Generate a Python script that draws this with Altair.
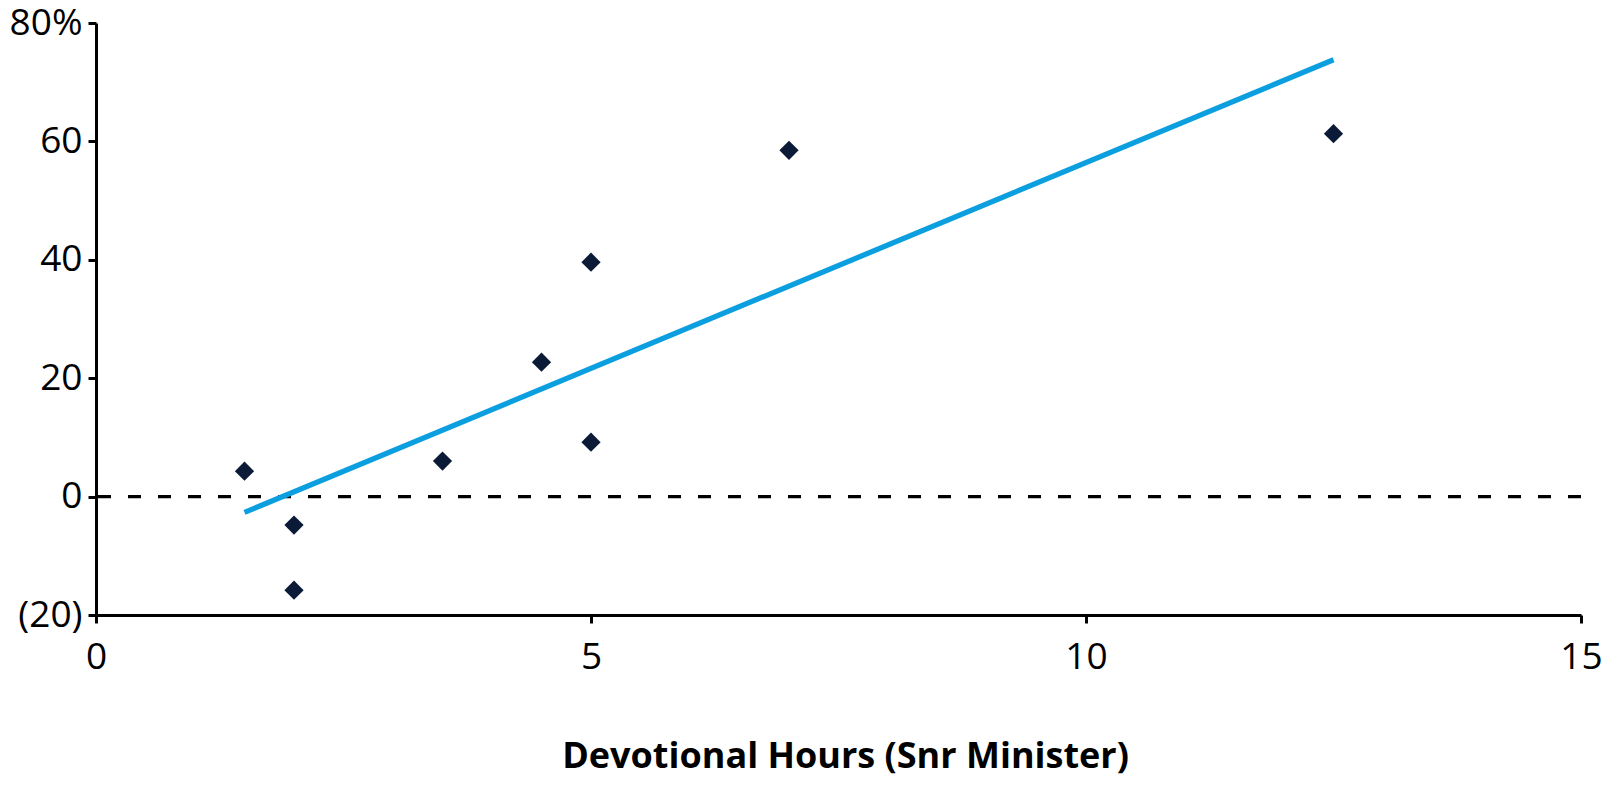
import altair as alt
import pandas as pd

# Data
hours = [1.5, 2.0, 2.0, 3.5, 4.5, 5.0, 5.0, 7.0, 12.5]
growth = [4.3, -4.8, -15.8, 6.0, 22.7, 39.6, 9.2, 58.5, 61.3]
x_ticks = [0, 5, 10, 15]
y_ticks = [-20, 0, 20, 40, 60, 80]
zero_line = [0]

df = pd.DataFrame({"hours": hours, "growth": growth})
zero_df = pd.DataFrame({"y": zero_line})

FONT = "Open Sans"

x_enc = alt.X(
    "hours:Q",
    scale=alt.Scale(domain=[0, 15], nice=False, zero=False),
    axis=alt.Axis(
        values=x_ticks,
        title="Devotional Hours (Snr Minister)",
        titleFont=FONT,
        titleFontSize=36,
        titleFontWeight="bold",
        titleColor="black",
        titleX=749,
        titleY=152,
        titleAlign="center",
        titleBaseline="alphabetic",
        labelFlush=False,
        labelPadding=16,
    ),
)
y_enc = alt.Y(
    "growth:Q",
    scale=alt.Scale(domain=[-20, 80], nice=False, zero=False),
    axis=alt.Axis(
        values=y_ticks,
        title=None,
        labelExpr="datum.value == 80 ? '80%' : (datum.value < 0 ? '(' + (-datum.value) + ')' : '' + datum.value)",
        labelPadding=6,
    ),
)

base = alt.Chart(df)

zero_rule = alt.Chart(zero_df).mark_rule(
    color="black", strokeWidth=3.2, strokeDash=[13, 17]
).encode(y=alt.Y("y:Q", scale=alt.Scale(domain=[-20, 80], nice=False, zero=False)))

trend = base.transform_regression("hours", "growth").mark_line(
    color="#0C9FDF", strokeWidth=5.3, strokeCap="butt"
).encode(x=x_enc, y=y_enc)

points = base.mark_point(
    shape="diamond", filled=True, size=370, color="#0B1A36", opacity=1
).encode(x=x_enc, y=y_enc)

chart = (
    alt.layer(zero_rule, trend, points)
    .properties(
        width=1485,
        height=592,
        padding={"left": 88, "top": 15, "right": 25, "bottom": 162},
        autosize=alt.AutoSizeParams(type="none"),
    )
    .configure_view(stroke=None)
    .configure_axis(
        grid=False,
        domainColor="black",
        domainWidth=3,
        tickColor="black",
        tickWidth=3,
        tickSize=8,
        labelFont=FONT,
        labelFontSize=37,
        labelColor="black",
        labelOverlap=False,
    )
)

chart.save("out.html", embed_options={"renderer": "svg", "actions": False})
